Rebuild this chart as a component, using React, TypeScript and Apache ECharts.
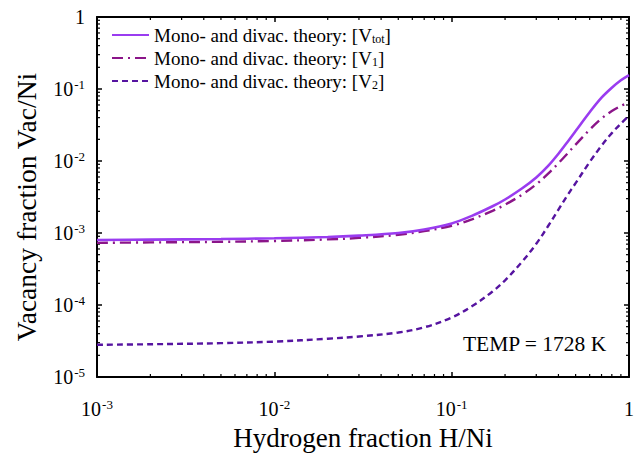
import React, { useEffect, useRef } from "react";
import * as echarts from "echarts";

const hFraction = [0.001, 0.002, 0.005, 0.01, 0.02, 0.03, 0.05, 0.07, 0.1, 0.13, 0.17, 0.2, 0.25, 0.3, 0.35, 0.4, 0.45, 0.5, 0.6, 0.7, 0.8, 0.9, 1.0];
const vTot = [8.0e-4, 8.1e-4, 8.25e-4, 8.45e-4, 8.8e-4, 9.2e-4, 1.0e-3, 1.12e-3, 1.36e-3, 1.73e-3, 2.35e-3, 2.92e-3, 4.18e-3, 5.9e-3, 8.55e-3, 0.0126, 0.0184, 0.0261, 0.0476, 0.0757, 0.104, 0.132, 0.156];
const v1 = [7.3e-4, 7.4e-4, 7.55e-4, 7.75e-4, 8.15e-4, 8.55e-4, 9.45e-4, 1.06e-3, 1.26e-3, 1.55e-3, 2.03e-3, 2.47e-3, 3.42e-3, 4.75e-3, 6.67e-3, 9.31e-3, 0.0127, 0.0169, 0.0272, 0.0388, 0.0493, 0.0582, 0.0653];
const v2 = [2.8e-5, 2.85e-5, 2.95e-5, 3.1e-5, 3.4e-5, 3.65e-5, 4.15e-5, 4.9e-5, 6.7e-5, 9.6e-5, 1.54e-4, 2.2e-4, 4.02e-4, 7.08e-4, 1.25e-3, 2.11e-3, 3.34e-3, 4.93e-3, 9.68e-3, 0.0163, 0.0244, 0.0331, 0.0425];

const seriesNames = ["Vtot", "V1", "V2"];
const legendLabels = [
  "Mono- and divac. theory: [V{sub|tot}]",
  "Mono- and divac. theory: [V{sub|1}]",
  "Mono- and divac. theory: [V{sub|2}]",
];
const X_MIN = 0.001;
const X_MAX = 1;
const Y_MIN = 1e-5;
const Y_MAX = 1;
const xDecades = [0.001, 0.01, 0.1];
const yDecades = [1e-5, 1e-4, 1e-3, 1e-2, 1e-1];
const minorMultipliers = [2, 3, 4, 5, 6, 7, 8, 9];
const tempLabel = "TEMP = 1728 K";
const xTitle = "Hydrogen fraction H/Ni";
const yTitle = "Vacancy fraction Vac/Ni";

const FONT = "'Liberation Serif', 'Times New Roman', serif";

const pairs = (ys: number[]) => hFraction.map((x, i) => [x, ys[i]]);

function logLabel(v: number) {
  const e = Math.round(Math.log10(v));
  if (e === 0) return "{b|1}";
  return `{b|10}{s|${e}}`;
}

export default function App() {
  const ref = useRef<HTMLDivElement>(null);
  useEffect(() => {
    document.body.style.margin = "0";
    if (!ref.current) return;
    const chart = echarts.init(ref.current, null, { renderer: "svg" });
    const xMinor: number[][] = [];
    xDecades.forEach((d) => minorMultipliers.forEach((m) => xMinor.push([d * m, Y_MIN])));
    const yMinor: number[][] = [];
    yDecades.forEach((d) => minorMultipliers.forEach((m) => yMinor.push([X_MIN, d * m])));

    const labelRich = {
      b: { fontSize: 20, fontFamily: FONT, color: "#000", lineHeight: 22 },
      s: { fontSize: 13, fontFamily: FONT, color: "#000", verticalAlign: "top", lineHeight: 22, padding: [0, 0, 0, 1] },
    };
    const axisLineStyle = { show: true, lineStyle: { color: "#000", width: 2 } };
    const tickStyle = { show: true, inside: true, length: 5, lineStyle: { color: "#000", width: 1.5 } };

    const option: any = {
      animation: false,
      backgroundColor: "#fff",
      grid: { left: 97, right: 3, top: 17, bottom: 74, containLabel: false },
      legend: {
        data: seriesNames,
        orient: "vertical",
        left: 106,
        top: 20,
        itemWidth: 37,
        itemHeight: 14,
        itemGap: 3,
        itemStyle: { opacity: 0 },
        formatter: (name: string) => legendLabels[seriesNames.indexOf(name)],
        textStyle: {
          fontFamily: FONT,
          fontSize: 19,
          color: "#000",
          lineHeight: 20,
          rich: {
            sub: { fontFamily: FONT, fontSize: 12, color: "#000", verticalAlign: "bottom", lineHeight: 20, padding: [8, 0, 0, 0] },
          },
        },
      },
      xAxis: [
        {
          type: "log",
          logBase: 10,
          min: X_MIN,
          max: X_MAX,
          name: xTitle,
          nameLocation: "middle",
          nameGap: 47,
          nameTextStyle: { fontFamily: FONT, fontSize: 27, color: "#000" },
          axisLine: axisLineStyle,
          axisTick: tickStyle,
          splitLine: { show: false },
          axisLabel: { margin: 21, formatter: logLabel, rich: labelRich },
        },
        {
          type: "log",
          logBase: 10,
          min: X_MIN,
          max: X_MAX,
          position: "top",
          axisLine: axisLineStyle,
          axisTick: tickStyle,
          splitLine: { show: false },
          axisLabel: { show: false },
        },
      ],
      yAxis: [
        {
          type: "log",
          logBase: 10,
          min: Y_MIN,
          max: Y_MAX,
          axisLine: axisLineStyle,
          axisTick: tickStyle,
          splitLine: { show: false },
          axisLabel: { margin: 12, formatter: logLabel, rich: labelRich },
        },
        {
          type: "log",
          logBase: 10,
          min: Y_MIN,
          max: Y_MAX,
          position: "right",
          axisLine: axisLineStyle,
          axisTick: tickStyle,
          splitLine: { show: false },
          axisLabel: { show: false },
        },
      ],
      graphic: [
        {
          type: "text",
          right: 30,
          top: 333,
          style: { text: tempLabel, fontFamily: FONT, fontSize: 21.5, fill: "#000" },
        },
        {
          type: "text",
          x: 26,
          y: 207,
          rotation: Math.PI / 2,
          style: { text: yTitle, fontFamily: FONT, fontSize: 27.5, fill: "#000", align: "center", verticalAlign: "middle" },
        },
      ],
      series: [
        {
          name: "Vtot",
          type: "line",
          data: pairs(vTot),
          smooth: 0.35,
          symbol: "none",
          lineStyle: { color: "#9a3cf0", width: 2.6 },
          itemStyle: { color: "#9a3cf0" },
          z: 5,
        },
        {
          name: "V1",
          type: "line",
          data: pairs(v1),
          smooth: 0.35,
          symbol: "none",
          lineStyle: { color: "#8b1589", width: 2.4, type: [11, 5, 2, 5] },
          itemStyle: { color: "#8b1589" },
          z: 4,
        },
        {
          name: "V2",
          type: "line",
          data: pairs(v2),
          smooth: 0.35,
          symbol: "none",
          lineStyle: { color: "#5614a0", width: 2.4, type: [6, 4] },
          itemStyle: { color: "#5614a0" },
          z: 4,
        },
        {
          name: "xMinor",
          type: "custom",
          data: xMinor,
          silent: true,
          renderItem: (params: any, api: any) => {
            const v = api.value(0);
            const pb = api.coord([v, Y_MIN]);
            const pt = api.coord([v, Y_MAX]);
            return {
              type: "group",
              children: [
                { type: "line", shape: { x1: pb[0], y1: pb[1], x2: pb[0], y2: pb[1] - 3 }, style: { stroke: "#000", lineWidth: 1.2 } },
                { type: "line", shape: { x1: pt[0], y1: pt[1], x2: pt[0], y2: pt[1] + 3 }, style: { stroke: "#000", lineWidth: 1.2 } },
              ],
            };
          },
        },
        {
          name: "yMinor",
          type: "custom",
          data: yMinor,
          silent: true,
          renderItem: (params: any, api: any) => {
            const v = api.value(1);
            const pl = api.coord([X_MIN, v]);
            const pr = api.coord([X_MAX, v]);
            return {
              type: "group",
              children: [
                { type: "line", shape: { x1: pl[0], y1: pl[1], x2: pl[0] + 3, y2: pl[1] }, style: { stroke: "#000", lineWidth: 1.2 } },
                { type: "line", shape: { x1: pr[0], y1: pr[1], x2: pr[0] - 3, y2: pr[1] }, style: { stroke: "#000", lineWidth: 1.2 } },
              ],
            };
          },
        },
      ],
    };
    chart.setOption(option);
    return () => chart.dispose();
  }, []);
  return <div ref={ref} style={{ width: 637, height: 456 }} />;
}
